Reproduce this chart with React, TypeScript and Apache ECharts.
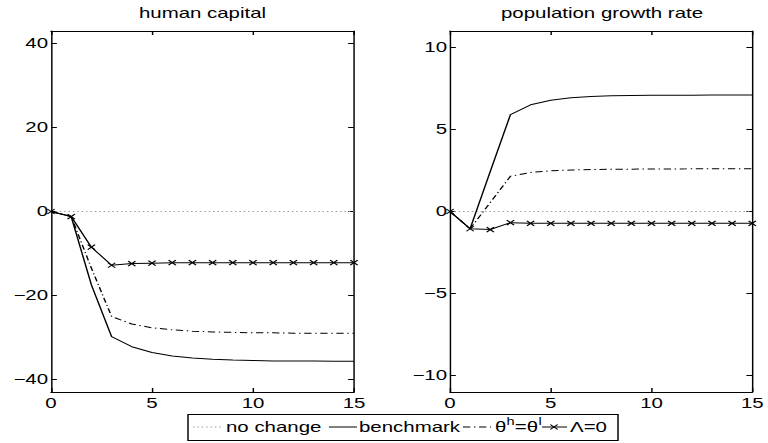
import React, { useEffect, useRef } from "react";
import * as echarts from "echarts";

// ---- data ----
const periods = [0, 1, 2, 3, 4, 5, 6, 7, 8, 9, 10, 11, 12, 13, 14, 15];

const hcNoChange = [0, 0, 0, 0, 0, 0, 0, 0, 0, 0, 0, 0, 0, 0, 0, 0];
const hcBenchmark = [0, -1.2, -17.5, -29.8, -32.2, -33.6, -34.4, -34.9, -35.2, -35.4, -35.5, -35.6, -35.6, -35.6, -35.7, -35.7];
const hcTheta = [0, -1.2, -13.5, -25.0, -26.8, -27.7, -28.2, -28.5, -28.7, -28.8, -28.9, -28.9, -29.0, -29.0, -29.0, -29.0];
const hcLambda = [0, -1.2, -8.5, -12.8, -12.4, -12.3, -12.2, -12.2, -12.2, -12.2, -12.2, -12.2, -12.2, -12.2, -12.2, -12.2];

const pgNoChange = [0, 0, 0, 0, 0, 0, 0, 0, 0, 0, 0, 0, 0, 0, 0, 0];
const pgBenchmark = [0, -1.05, 2.45, 5.9, 6.5, 6.78, 6.93, 7.01, 7.05, 7.07, 7.08, 7.09, 7.09, 7.1, 7.1, 7.1];
const pgTheta = [0, -1.05, 0.55, 2.15, 2.38, 2.48, 2.53, 2.56, 2.57, 2.58, 2.59, 2.59, 2.6, 2.6, 2.6, 2.6];
const pgLambda = [0, -1.05, -1.1, -0.68, -0.72, -0.72, -0.72, -0.72, -0.72, -0.72, -0.72, -0.72, -0.72, -0.72, -0.72, -0.72];

const xTicks = [0, 5, 10, 15];
const hcTicks = [-40, -20, 0, 20, 40];
const pgTicks = [-10, -5, 0, 5, 10];

const titles = ["human capital", "population growth rate"];
const legendNames = ["no change", "benchmark", "θh=θl", "Λ=0"];

// ---- layout (source image is horizontally stretched) ----
const W = 526;
const H = 443;
const SX = 768 / W;
const ix = (x: number) => x / SX;
const FONT = "'Liberation Sans', Arial, Helvetica, sans-serif";
const FS = 14;

const pair = (ys: number[]) => periods.map((t, i) => [t, ys[i]]);
const fmt = (v: number) => (v < 0 ? "\u2212" + Math.abs(v) : String(v));

const DASHDOT = [5, 2.5, 1, 2.5];
const DOTTED = [1, 2];
const XMARK = "path://M0,0L10,10M10,0L0,10";

export default function App() {
  const ref = useRef<HTMLDivElement>(null);

  useEffect(() => {
    document.body.style.margin = "0";
    const chart = echarts.init(ref.current!, null, { renderer: "svg", width: W, height: H });

    const grids = [
      { left: ix(51), top: 31, width: ix(354) - ix(51), height: 361 },
      { left: ix(450), top: 31, width: ix(754) - ix(450), height: 361 },
    ];

    const axisCommon = {
      axisLine: { show: true, onZero: false, lineStyle: { color: "#000", width: 1 } },
      axisTick: { show: true, inside: true, length: 4, lineStyle: { color: "#000", width: 1 } },
      splitLine: { show: false },
    };
    const labelStyle = { color: "#000", fontSize: FS, fontFamily: FONT };

    const xAxes: any[] = [];
    const yAxes: any[] = [];
    [0, 1].forEach((g) => {
      xAxes.push({
        type: "value", gridIndex: g, position: "bottom", min: 0, max: 15, interval: 5,
        ...axisCommon,
        axisLabel: { ...labelStyle, margin: 4, formatter: fmt },
      });
      xAxes.push({
        type: "value", gridIndex: g, position: "top", min: 0, max: 15, interval: 5,
        ...axisCommon,
        axisLabel: { show: false },
      });
      const ticks = g === 0 ? hcTicks : pgTicks;
      const lim = g === 0 ? 43 : 11;
      yAxes.push({
        type: "value", gridIndex: g, position: "left", min: -lim, max: lim,
        ...axisCommon,
        axisTick: { ...axisCommon.axisTick, customValues: ticks },
        axisLabel: { ...labelStyle, margin: 2, customValues: ticks, formatter: fmt },
      });
      yAxes.push({
        type: "value", gridIndex: g, position: "right", min: -lim, max: lim,
        ...axisCommon,
        axisTick: { ...axisCommon.axisTick, customValues: ticks },
        axisLabel: { show: false, customValues: ticks },
      });
    });

    const mk = (name: string, data: number[], g: number, kind: string) => {
      const base: any = {
        name, type: "line", data: pair(data),
        xAxisIndex: g * 2, yAxisIndex: g * 2,
        clip: false, silent: true,
        lineStyle: { color: "#000", width: 1 },
        symbol: "none",
      };
      if (kind === "dotted") base.lineStyle = { color: "#999", width: 1, type: DOTTED };
      if (kind === "dashdot") base.lineStyle = { color: "#000", width: 1, type: DASHDOT };
      if (kind === "marker") {
        base.symbol = XMARK;
        base.symbolSize = 5;
        base.showSymbol = true;
        base.itemStyle = { color: "#000", borderColor: "#000", borderWidth: 1 };
      }
      return base;
    };

    const series = [
      mk(legendNames[0], hcNoChange, 0, "dotted"),
      mk(legendNames[1], hcBenchmark, 0, "solid"),
      mk(legendNames[2], hcTheta, 0, "dashdot"),
      mk(legendNames[3], hcLambda, 0, "marker"),
      mk(legendNames[0], pgNoChange, 1, "dotted"),
      mk(legendNames[1], pgBenchmark, 1, "solid"),
      mk(legendNames[2], pgTheta, 1, "dashdot"),
      mk(legendNames[3], pgLambda, 1, "marker"),
    ];

    // legend (drawn by hand, in inner coordinates)
    const ly = 427;
    const txt = (x: number, y: number, text: string, size = FS, align = "left") => ({
      type: "text", x, y,
      style: { text, fill: "#000", fontSize: size, fontFamily: FONT, align, verticalAlign: "middle" },
    });
    const seg = (x1: number, x2: number, dash: any, color = "#000") => ({
      type: "line",
      shape: { x1, y1: ly, x2, y2: ly },
      style: { stroke: color, lineWidth: 1, lineDash: dash },
    });
    const mx = ix(554);
    const graphic: any[] = [
      txt((grids[0].left + grids[0].left + grids[0].width) / 2, 13.5, titles[0], FS, "center"),
      txt((grids[1].left + grids[1].left + grids[1].width) / 2, 13.5, titles[1], FS, "center"),
      {
        type: "rect",
        shape: { x: ix(188), y: 414.5, width: ix(618) - ix(188), height: 26 },
        style: { fill: "#fff", stroke: "#000", lineWidth: 1 },
      },
      seg(ix(193), ix(222), DOTTED, "#999"),
      txt(ix(226), ly, legendNames[0]),
      seg(ix(329), ix(357), null),
      txt(ix(359), ly, legendNames[1]),
      seg(ix(463), ix(491), DASHDOT),
      txt(ix(495), ly, "θ"),
      txt(ix(495) + 7.8, ly - 5, "h", 10),
      txt(ix(495) + 7.8 + 5.8, ly, "=θ"),
      txt(ix(495) + 7.8 + 5.8 + 16.2, ly - 5, "l", 10),
      seg(ix(542), ix(567), null),
      { type: "line", shape: { x1: mx - 2.5, y1: ly - 2.5, x2: mx + 2.5, y2: ly + 2.5 }, style: { stroke: "#000", lineWidth: 1 } },
      { type: "line", shape: { x1: mx - 2.5, y1: ly + 2.5, x2: mx + 2.5, y2: ly - 2.5 }, style: { stroke: "#000", lineWidth: 1 } },
      txt(ix(570), ly, legendNames[3]),
    ];

    chart.setOption({
      animation: false,
      backgroundColor: "#fff",
      grid: grids,
      xAxis: xAxes,
      yAxis: yAxes,
      series,
      graphic,
    });

    return () => chart.dispose();
  }, []);

  return (
    <div
      ref={ref}
      style={{
        position: "absolute",
        left: 0,
        top: 0,
        width: W,
        height: H,
        transform: `scaleX(${SX})`,
        transformOrigin: "0 0",
      }}
    />
  );
}
